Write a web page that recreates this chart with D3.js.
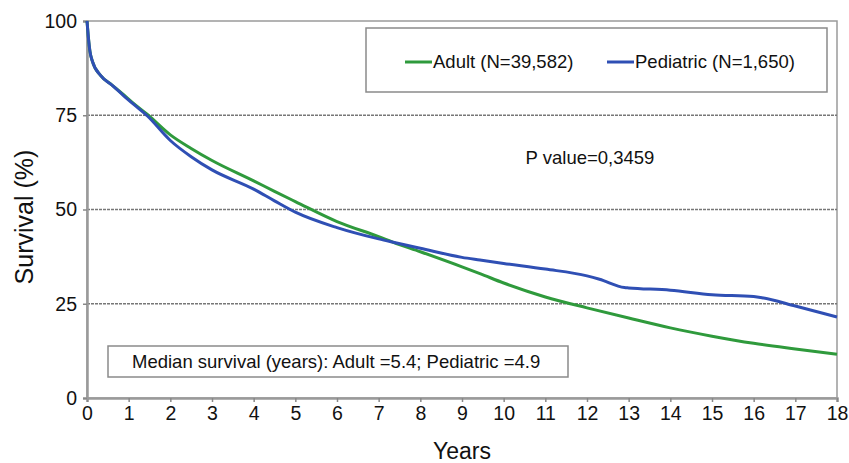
<!DOCTYPE html>
<meta charset="utf-8">
<style>
body { margin: 0; background: #fff; }
svg { font-family: "Liberation Sans", Arial, Helvetica, sans-serif; }
</style>
<body>
<script src="https://d3js.org/d3.v7.min.js"></script>
<script>

// Kaplan-Meier survival
const adultYears = [0, 0.03, 0.07, 0.13, 0.33, 0.6, 0.87, 1.13, 1.45, 2, 2.5, 3, 4, 4.5, 5, 6, 7, 7.35, 8, 9, 9.43, 10, 11, 12, 13, 14, 15, 16, 17, 18];
const adultSurv = [100, 96, 92, 89.3, 85.5, 83, 80.5, 78, 75.2, 69.8, 66.2, 63, 57.6, 54.8, 52.1, 46.8, 42.8, 41.3, 38.8, 34.8, 33, 30.5, 26.8, 23.9, 21.2, 18.6, 16.4, 14.5, 13, 11.6];

const pedYears = [0, 0.03, 0.07, 0.13, 0.33, 0.6, 0.87, 1.13, 1.45, 2, 2.5, 3, 4, 4.5, 5, 6, 7, 7.35, 8, 9, 9.43, 10, 11, 12, 12.3, 12.9, 13, 14, 15, 16, 16.2, 17, 18];
const pedSurv = [100, 96, 92, 89.3, 85.5, 83, 80.3, 77.8, 74.8, 68.3, 64, 60.5, 55.4, 52.3, 49.3, 45.2, 42.2, 41.3, 39.7, 37.3, 36.6, 35.7, 34.2, 32.4, 31.5, 29.3, 29.2, 28.6, 27.4, 26.9, 26.6, 24.4, 21.5];

const xTicks = d3.range(0, 19);
const yTicks = [0, 25, 50, 75, 100];
const gridTicks = [25, 50, 75];

const legendLabels = ["Adult (N=39,582)", "Pediatric (N=1,650)"];
const colors = ["#2f9a3c", "#2f4fb4"];
const pText = "P value=0,3459";
const medianText = "Median survival (years): Adult =5.4; Pediatric =4.9";

const width = 849, height = 463;
const margin = {top: 21, right: 12, bottom: 65, left: 87};

const x = d3.scaleLinear().domain([0, 18]).range([margin.left, width - margin.right]);
const y = d3.scaleLinear().domain([0, 100]).range([height - margin.bottom, margin.top]);

const svg = d3.select("body").append("svg")
    .attr("width", width)
    .attr("height", height);

// frame
svg.append("rect")
    .attr("x", x(0)).attr("y", y(100))
    .attr("width", x(18) - x(0)).attr("height", y(0) - y(100))
    .attr("fill", "none")
    .attr("stroke", "#9a9a9a")
    .attr("stroke-width", 1.5);

// gridlines
svg.append("g")
  .selectAll("line")
  .data(gridTicks)
  .join("line")
    .attr("x1", x(0)).attr("x2", x(18))
    .attr("y1", d => y(d)).attr("y2", d => y(d))
    .attr("stroke", "#777")
    .attr("stroke-width", 1.5)
    .attr("stroke-dasharray", "3,1");

// axes
const xAxis = svg.append("g")
    .attr("transform", `translate(0,${y(0)})`)
    .call(d3.axisBottom(x).tickValues(xTicks).tickFormat(d3.format("d")).tickSize(4).tickPadding(4));

const yAxis = svg.append("g")
    .attr("transform", `translate(${x(0)},0)`)
    .call(d3.axisLeft(y).tickValues(yTicks).tickSize(4).tickPadding(6));

[xAxis, yAxis].forEach(g => {
  g.select(".domain").attr("stroke", "#9a9a9a").attr("stroke-width", 2.5);
  g.selectAll(".tick line").attr("stroke", "#888").attr("stroke-width", 1.5);
  g.selectAll(".tick text").attr("fill", "#111").style("font-size", "19.5px")
      .style("font-family", "'Liberation Sans', Arial, sans-serif");
});

// axis titles
svg.append("text")
    .attr("x", (x(0) + x(18)) / 2)
    .attr("y", 459)
    .attr("text-anchor", "middle")
    .style("font-size", "23px")
    .attr("fill", "#111")
    .text("Years");

svg.append("text")
    .attr("transform", `translate(33,217) rotate(-90)`)
    .attr("text-anchor", "middle")
    .style("font-size", "25px")
    .attr("fill", "#111")
    .text("Survival (%)");

// survival curves
const line = d3.line()
    .x(d => x(d[0]))
    .y(d => y(d[1]))
    .curve(d3.curveMonotoneX);

const series = [
  d3.zip(adultYears, adultSurv),
  d3.zip(pedYears, pedSurv)
];

svg.append("g")
  .selectAll("path")
  .data(series)
  .join("path")
    .attr("d", line)
    .attr("fill", "none")
    .attr("stroke", (d, i) => colors[i])
    .attr("stroke-width", 3)
    .attr("stroke-linejoin", "round");

// legend box
svg.append("rect")
    .attr("x", 366).attr("y", 28)
    .attr("width", 461).attr("height", 64)
    .attr("fill", "#fff")
    .attr("stroke", "#8a8a8a")
    .attr("stroke-width", 1.5);

const legendX = [405, 607];
const legend = svg.append("g")
  .selectAll("g")
  .data(legendLabels)
  .join("g")
    .attr("transform", (d, i) => `translate(${legendX[i]},62)`);

legend.append("line")
    .attr("x1", 0).attr("x2", 27)
    .attr("stroke", (d, i) => colors[i])
    .attr("stroke-width", 3);

legend.append("text")
    .attr("x", 28)
    .attr("dy", "0.35em")
    .style("font-size", "18.5px")
    .attr("fill", "#111")
    .text(d => d);

// p value
svg.append("text")
    .attr("x", 590)
    .attr("y", 158)
    .attr("dy", "0.35em")
    .attr("text-anchor", "middle")
    .style("font-size", "18.5px")
    .attr("fill", "#111")
    .text(pText);

// median survival box
svg.append("rect")
    .attr("x", 108).attr("y", 346)
    .attr("width", 460).attr("height", 31)
    .attr("fill", "#fff")
    .attr("stroke", "#8a8a8a")
    .attr("stroke-width", 1.5);

svg.append("text")
    .attr("x", 132)
    .attr("y", 362)
    .attr("dy", "0.35em")
    .style("font-size", "18.5px")
    .attr("fill", "#111")
    .text(medianText);

</script>
